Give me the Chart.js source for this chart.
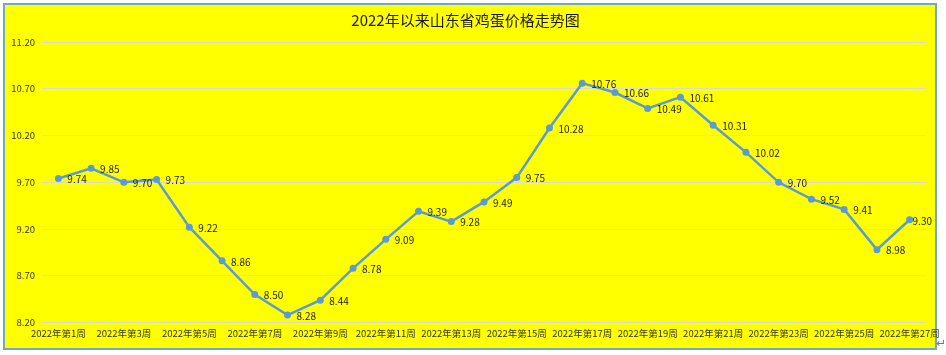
<!DOCTYPE html>
<html>
<head>
<meta charset="utf-8">
<script src="https://cdn.jsdelivr.net/npm/chart.js@4"></script>
<style>
  html, body { margin: 0; padding: 0; background: #ffffff; }
  #box { position: absolute; left: 3px; top: 3px; width: 930px; height: 343px;
         border: 2px solid #72a9c2; background: #ffff00; overflow: visible; }
  #c { display: block; }
  #mark { position: absolute; left: 936px; top: 336px; font: 12px "DejaVu Sans", sans-serif; color: #777; }
</style>
</head>
<body>
<div id="box"><canvas id="c" width="940" height="343"></canvas></div>
<div id="mark">↵</div>
<script>
const titleText = "2022年以来山东省鸡蛋价格走势图";
const weeks = [];
for (let i = 1; i <= 27; i++) weeks.push("2022年第" + i + "周");
const prices = [9.74, 9.85, 9.70, 9.73, 9.22, 8.86, 8.50, 8.28, 8.44, 8.78, 9.09, 9.39, 9.28, 9.49,
                9.75, 10.28, 10.76, 10.66, 10.49, 10.61, 10.31, 10.02, 9.70, 9.52, 9.41, 8.98, 9.30];
const yMin = 8.2, yMax = 11.2, yStep = 0.5;

const FONT = '"Noto Sans CJK SC", "Noto Sans", sans-serif';

const valueLabels = {
  id: 'valueLabels',
  afterDatasetsDraw(chart) {
    const ctx = chart.ctx;
    const meta = chart.getDatasetMeta(0);
    ctx.save();
    ctx.font = '10px ' + FONT;
    ctx.fillStyle = '#222';
    ctx.textAlign = 'left';
    ctx.textBaseline = 'middle';
    meta.data.forEach((pt, i) => {
      const txt = prices[i].toFixed(2);
      const w = ctx.measureText(txt).width;
      let x = pt.x + 9;
      if (x + w > 927) x = 927 - w;
      ctx.fillText(txt, x, pt.y + 1);
    });
    ctx.restore();
  }
};

new Chart(document.getElementById('c'), {
  type: 'line',
  data: {
    labels: weeks,
    datasets: [{
      data: prices,
      borderColor: '#5b9bd5',
      backgroundColor: '#5b9bd5',
      borderWidth: 2.5,
      pointRadius: 3.5,
      pointHoverRadius: 3.5,
      pointBackgroundColor: '#5b9bd5',
      pointBorderWidth: 0,
      tension: 0
    }]
  },
  options: {
    responsive: false,
    animation: false,
    events: [],
    layout: { padding: { left: 0, right: 19, top: 0, bottom: 4 } },
    plugins: {
      legend: { display: false },
      tooltip: { enabled: false },
      title: {
        display: true,
        text: titleText,
        color: '#1a1a1a',
        font: { family: FONT, size: 15, weight: 'normal' },
        padding: { top: 6, bottom: 13 }
      }
    },
    scales: {
      x: {
        offset: true,
        grid: { display: false, drawTicks: false },
        border: { display: false },
        afterFit: (s) => { s.paddingLeft = 0; s.paddingRight = 0; },
        ticks: {
          autoSkip: false,
          maxRotation: 0,
          minRotation: 0,
          padding: 5,
          color: '#333',
          font: { family: FONT, size: 9.5 },
          callback: (v, i) => (i % 2 === 0 ? weeks[i] : '')
        }
      },
      y: {
        min: yMin,
        max: yMax,
        afterFit: (s) => { s.width = 37; },
        grid: { color: '#d9d9d9', lineWidth: 1, drawTicks: false },
        border: { display: false },
        ticks: {
          stepSize: yStep,
          padding: 7,
          color: '#333',
          font: { family: FONT, size: 9.5 },
          callback: (v) => Number(v).toFixed(2)
        }
      }
    }
  },
  plugins: [valueLabels]
});
</script>
</body>
</html>
